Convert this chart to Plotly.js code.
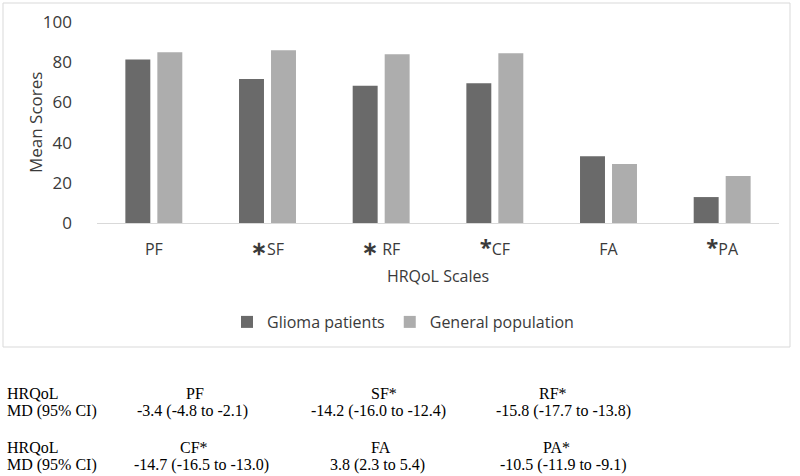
<!DOCTYPE html>
<html>
<head>
<meta charset="utf-8">
<script src="https://cdn.plot.ly/plotly-3.0.1.min.js"></script>
<style>
html,body{margin:0;padding:0;background:#fff;}
#chart{width:800px;height:476px;}
</style>
</head>
<body>
<div id="chart"></div>
<script>
// Data
const categories = ["PF", "SF", "RF", "CF", "FA", "PA"];
const tickLabels = ["PF", "<span style='font-size:19px'><b>∗</b></span>SF", "<span style='font-size:19px'><b>∗</b></span> RF",
                    "<span style='font-size:22px'><b>*</b></span>CF", "FA",
                    "<span style='font-size:22px'><b>*</b></span>PA"];
const gliomaPatients = [81.4, 71.6, 68.3, 69.5, 33.2, 12.9];
const generalPopulation = [84.9, 85.9, 84.0, 84.4, 29.4, 23.4];
const seriesNames = ["Glioma patients", "General population"];

// Table below the chart
const tableRowLabels = ["HRQoL", "MD (95% CI)"];
const tableHeaders1 = ["PF", "SF*", "RF*"];
const tableValues1 = ["-3.4 (-4.8 to -2.1)", "-14.2 (-16.0 to -12.4)", "-15.8 (-17.7 to -13.8)"];
const tableHeaders2 = ["CF*", "FA", "PA*"];
const tableValues2 = ["-14.7 (-16.5 to -13.0)", "3.8 (2.3 to 5.4)", "-10.5 (-11.9 to -9.1)"];

// Layout geometry (pixels)
const W = 800, H = 476;
const L = 97, R = 779, T = 22, B = 223;
const pw = R - L, ph = B - T;
const px = x => (x - L) / pw;
const py = y => (B - y) / ph;

const traces = [
  {type: "bar", name: seriesNames[0], x: categories, y: gliomaPatients,
   marker: {color: "#6a6a6a"}, hoverinfo: "skip"},
  {type: "bar", name: seriesNames[1], x: categories, y: generalPopulation,
   marker: {color: "#adadad"}, hoverinfo: "skip"}
];

const txt = "#3a3a3a";
const serif = {family: "Liberation Serif, Times New Roman, serif", size: 16, color: "#000"};
const annotations = [];
function addText(text, xPix, yPix, anchor) {
  annotations.push({text: text, xref: "paper", yref: "paper", x: px(xPix), y: py(yPix),
    xanchor: anchor, yanchor: "middle", showarrow: false, font: serif});
}
const headerCenters = [195, 384, 553];
const valueCenters1 = [192, 378, 563];
const valueCenters2 = [201, 377, 563];
const headerCenters2 = [194, 381, 556];
addText(tableRowLabels[0], 5, 393, "left");
addText(tableRowLabels[1], 5, 411, "left");
addText(tableRowLabels[0], 5, 447, "left");
addText(tableRowLabels[1], 5, 465, "left");
for (let i = 0; i < 3; i++) {
  addText(tableHeaders1[i], headerCenters[i], 393, "center");
  addText(tableValues1[i], valueCenters1[i], 411, "center");
  addText(tableHeaders2[i], headerCenters2[i], 447, "center");
  addText(tableValues2[i], valueCenters2[i], 465, "center");
}
// y-axis title
annotations.push({text: "Mean Scores", xref: "paper", yref: "paper", x: px(35), y: py(123),
  xanchor: "center", yanchor: "middle", textangle: -90, showarrow: false,
  font: {family: "Open Sans, sans-serif", size: 17, color: txt}});

const layout = {
  width: W, height: H,
  margin: {l: L, r: W - R, t: T, b: H - B, pad: 0},
  paper_bgcolor: "#fff", plot_bgcolor: "#fff",
  font: {family: "Open Sans, sans-serif", size: 16, color: txt},
  barmode: "group",
  bargap: 0.437,
  bargroupgap: 0.22,
  showlegend: true,
  legend: {orientation: "h", x: px(403), y: py(322), xanchor: "center", yanchor: "middle",
           font: {size: 16, color: txt}, itemwidth: 30, traceorder: "normal"},
  xaxis: {
    tickvals: categories, ticktext: tickLabels,
    showline: true, linecolor: "#d9d9d9", linewidth: 1,
    showgrid: false, zeroline: false, ticks: "",
    tickfont: {size: 16, color: txt},
    ticklabelstandoff: 12,
    title: {text: "HRQoL Scales", font: {size: 16, color: txt}, standoff: 10},
    automargin: false, fixedrange: true
  },
  yaxis: {
    range: [0, 100], tickvals: [0, 20, 40, 60, 80, 100],
    showgrid: false, zeroline: false, showline: false,
    ticks: "",
    ticklabelstandoff: 24,
    tickfont: {size: 17, color: txt},
    automargin: false, fixedrange: true
  },
  shapes: [
    {type: "rect", xref: "paper", yref: "paper", x0: px(3), x1: px(790), y0: py(3), y1: py(347),
     line: {color: "#d9d9d9", width: 1}, fillcolor: "rgba(0,0,0,0)", layer: "below"}
  ],
  annotations: annotations
};

Plotly.newPlot("chart", traces, layout, {staticPlot: true, displayModeBar: false});
</script>
</body>
</html>
